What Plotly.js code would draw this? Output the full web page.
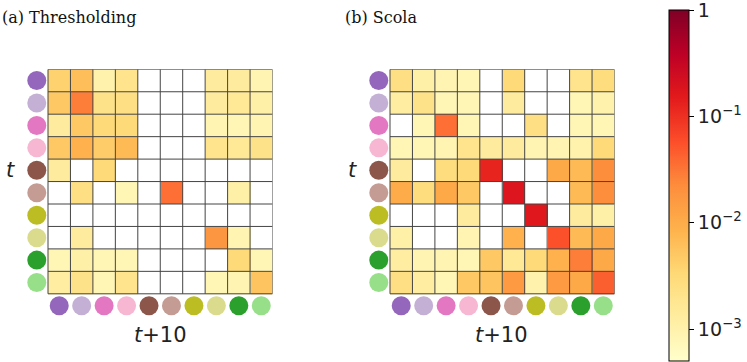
<!DOCTYPE html>
<html><head><meta charset="utf-8">
<script src="https://cdn.plot.ly/plotly-3.0.1.min.js"></script>
<style>body{margin:0;background:#fff}#chart{width:747px;height:362px}</style>
</head><body><div id="chart"></div>
<script>
const groups = ['g1','g2','g3','g4','g5','g6','g7','g8','g9','g10'];
const groupColors = ['#9467bd','#c5b0d5','#e377c2','#f7b6d2','#8c564b','#c49c94','#bcbd22','#dbdb8d','#2ca02c','#98df8a'];
// null = empty (white) cell
const thresholding = [
  [0.004, 0.0063, 0.001, 0.002, null, null, null, 0.0014, 0.0014, 0.0009],
  [0.005, 0.028, 0.0022, 0.0025, null, null, null, 0.0014, 0.0016, 0.0011],
  [0.0014, 0.005, 0.0032, 0.0032, null, null, null, 0.0009, 0.0008, 0.0009],
  [0.005, 0.0089, 0.0045, 0.007, null, null, null, 0.002, 0.0016, 0.0022],
  [0.0014, null, 0.0032, null, null, null, null, null, null, null],
  [null, 0.0025, null, 0.0008, null, 0.035, null, null, 0.0011, null],
  [null, null, null, null, null, null, null, null, null, null],
  [null, 0.0014, null, null, null, null, null, 0.018, 0.0009, null],
  [0.0008, 0.0011, 0.0008, 0.0008, null, null, null, null, 0.0032, 0.0008],
  [0.00125, 0.0022, 0.0008, 0.002, null, null, null, 0.0008, 0.0009, 0.0056]
];
const scola = [
  [0.0025, 0.0011, 0.0009, 0.0008, null, 0.0032, null, null, 0.002, 0.0028],
  [0.00125, 0.0022, 0.0008, 0.0008, null, 0.0014, null, null, 0.0008, 0.001],
  [null, 0.0008, 0.035, 0.0008, null, null, 0.0025, null, 0.0008, 0.0008],
  [0.0008, 0.0008, 0.0009, 0.002, 0.0014, 0.0014, 0.0009, 0.0009, 0.001, 0.0032],
  [0.0014, null, 0.0028, 0.0032, 0.125, null, null, 0.011, 0.007, 0.022],
  [0.01, 0.0028, 0.011, 0.005, null, 0.18, null, null, 0.007, 0.022],
  [null, null, null, 0.0014, null, null, 0.16, null, 0.0014, 0.0011],
  [0.0011, null, null, 0.0009, null, 0.0089, null, 0.056, 0.007, 0.011],
  [0.00125, 0.0009, 0.0009, 0.0008, 0.005, 0.0016, 0.0032, 0.0089, 0.028, 0.011],
  [0.0025, 0.00125, 0.0008, 0.005, 0.0056, 0.016, 0.001, 0.016, 0.011, 0.045]
];
const cbTickVals = [0.001, 0.01, 0.1, 1];
const cbTickText = ['10<sup>−3</sup>', '10<sup>−2</sup>', '10<sup>−1</sup>', '1'];
const titles = ['(a) Thresholding', '(b) Scola'];
const rowLabel = '<i>t</i>';
const colLabel = '<i>t</i>+10';

const ylorrd = [[0,'#ffffcc'],[0.125,'#ffeda0'],[0.25,'#fed976'],[0.375,'#feb24c'],[0.5,'#fd8d3c'],[0.625,'#fc4e2a'],[0.75,'#e31a1c'],[0.875,'#bd0026'],[1,'#800026']];
const lg = m => m.map(r => r.map(v => v == null ? null : Math.log10(v)));
const idx = groups.map((g,i)=>i);

const traces = [];
[thresholding, scola].forEach((m, k) => {
  const xa = k === 0 ? 'x' : 'x2', ya = k === 0 ? 'y' : 'y2';
  traces.push({type:'heatmap', z: lg(m), x: idx, y: idx, xaxis: xa, yaxis: ya,
    coloraxis:'coloraxis', hoverongaps:false});
  traces.push({type:'scatter', mode:'markers', x: idx.map(()=>-1.0), y: idx, xaxis: xa, yaxis: ya,
    showlegend:false, marker:{size:19, color:groupColors, line:{width:0}}});
  traces.push({type:'scatter', mode:'markers', x: idx, y: idx.map(()=>10.03), xaxis: xa, yaxis: ya,
    showlegend:false, marker:{size:19, color:groupColors, line:{width:0}}});
});

const shapes = [];
['x','x2'].forEach((xa, k) => {
  const ya = k === 0 ? 'y' : 'y2';
  for (let i = 0; i <= 10; i++) {
    shapes.push({type:'line', xref:xa, yref:ya, x0:i-0.5, x1:i-0.5, y0:-0.5, y1:9.5, line:{color:'#444', width:1}});
    shapes.push({type:'line', xref:xa, yref:ya, y0:i-0.5, y1:i-0.5, x0:-0.5, x1:9.5, line:{color:'#444', width:1}});
  }
});

const cw = 22.45; // px per cell
const xr = [-1.5, 9.5];
const yr = [10.55, -0.5];
const ax = (left, rng) => ({domain:[(left - cw)/747, (left + 10*cw)/747], range:rng, showticklabels:false, ticks:'', showgrid:false, zeroline:false, showline:false, fixedrange:true});
const yTop = 69.3, yBot = yTop + 11.05*cw;
const yax = {domain:[(362 - yBot)/362, (362 - yTop)/362], range:yr, showticklabels:false, ticks:'', showgrid:false, zeroline:false, showline:false, fixedrange:true};
const tf = {family:'DejaVu Sans', size:21, color:'#222'};
const layout = {
  width:747, height:362, margin:{l:0,r:0,t:0,b:0}, paper_bgcolor:'#fff', plot_bgcolor:'rgba(0,0,0,0)', showlegend:false,
  xaxis: ax(48, xr), yaxis: Object.assign({}, yax),
  xaxis2: ax(390, xr), yaxis2: Object.assign({}, yax),
  coloraxis: {colorscale: ylorrd, cmin: -3.3, cmax: 0.001,
    colorbar: {x: 669/747, xanchor:'left', y: (362-10)/362, yanchor:'top', len: 351/362, lenmode:'fraction',
      thickness: 20, thicknessmode:'pixels', outlinecolor:'#000', outlinewidth:1,
      tickvals: cbTickVals.map(Math.log10), ticktext: cbTickText, ticks:'outside', ticklen:5, tickcolor:'#000',
      ticklabeloverflow:'allow',
      tickfont:{family:'DejaVu Sans', size:19, color:'#222'}, xpad:0, ypad:0}},
  shapes: shapes,
  annotations: [
    {text:titles[0], xref:'paper', yref:'paper', x:0, xanchor:'left', y:(362-18)/362, yanchor:'middle', showarrow:false, font:{family:'DejaVu Serif', size:16, color:'#111'}},
    {text:titles[1], xref:'paper', yref:'paper', x:343/747, xanchor:'left', y:(362-18)/362, yanchor:'middle', showarrow:false, font:{family:'DejaVu Serif', size:16, color:'#111'}},
    {text:rowLabel, xref:'paper', yref:'paper', x:10.5/747, xanchor:'center', y:(362-170)/362, yanchor:'middle', showarrow:false, font:tf},
    {text:rowLabel, xref:'paper', yref:'paper', x:352/747, xanchor:'center', y:(362-170)/362, yanchor:'middle', showarrow:false, font:tf},
    {text:colLabel, xref:'paper', yref:'paper', x:160/747, xanchor:'center', y:(362-335)/362, yanchor:'middle', showarrow:false, font:tf},
    {text:colLabel, xref:'paper', yref:'paper', x:501/747, xanchor:'center', y:(362-335)/362, yanchor:'middle', showarrow:false, font:tf}
  ]
};
Plotly.newPlot('chart', traces, layout, {displayModeBar:false, staticPlot:true});
</script></body></html>
